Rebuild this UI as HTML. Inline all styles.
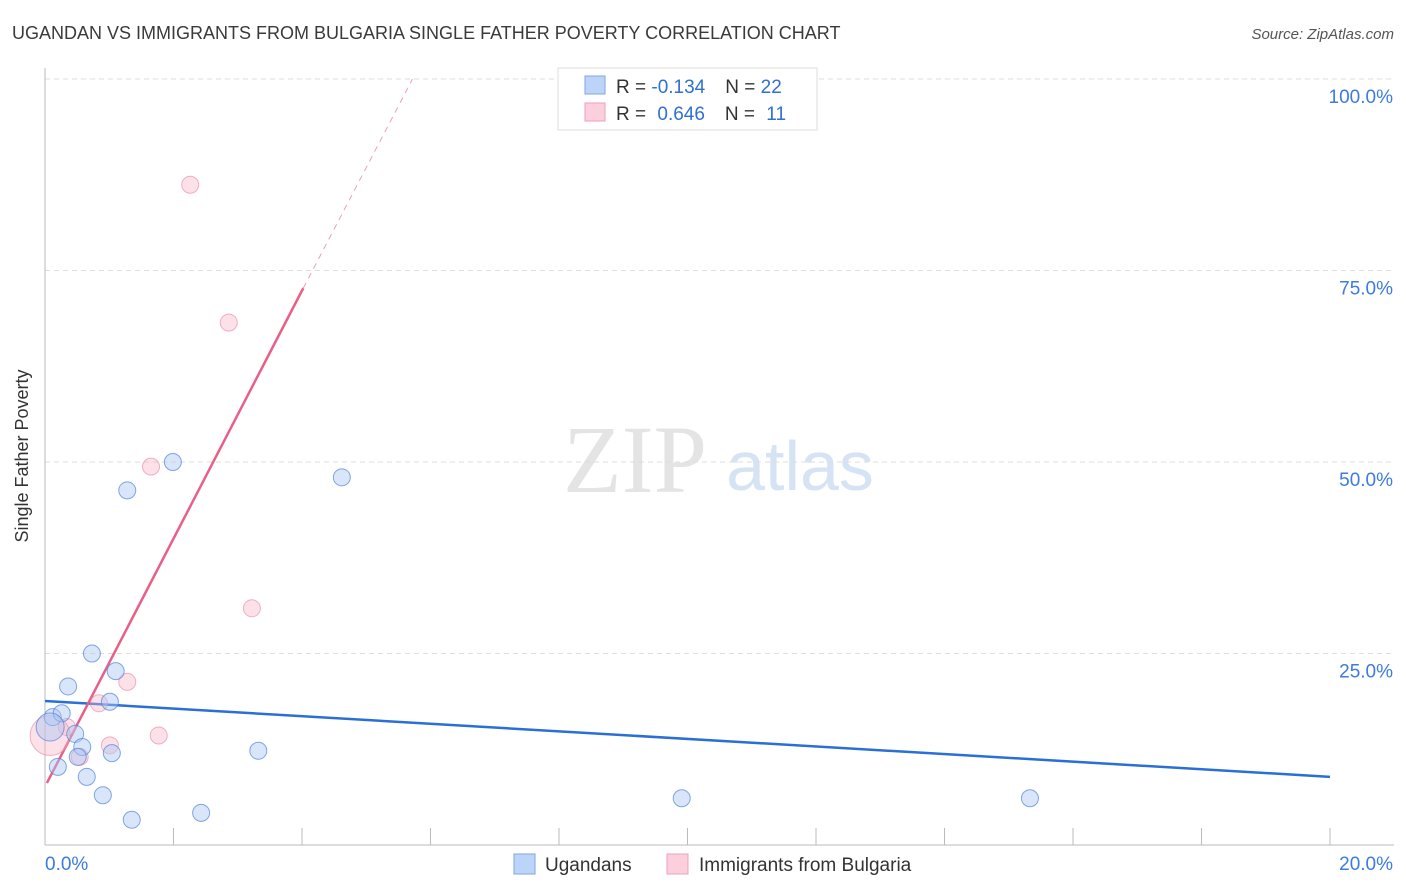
<!DOCTYPE html>
<html><head><meta charset="utf-8"><style>
body{margin:0;background:#fff;font-family:"Liberation Sans",sans-serif}
svg{display:block}
</style></head><body>
<svg id="c" width="1406" height="892">
<text x="12" y="39" font-size="18" fill="#3a3a3a">UGANDAN VS IMMIGRANTS FROM BULGARIA SINGLE FATHER POVERTY CORRELATION CHART</text>
<text x="1394" y="39" font-size="15" fill="#555" font-style="italic" text-anchor="end">Source: ZipAtlas.com</text>
<text x="28" y="456" font-size="18" fill="#333" text-anchor="middle" transform="rotate(-90 28 456)">Single Father Poverty</text>
<text x="635" y="492" font-size="96" fill="#e4e4e4" font-family="Liberation Serif,serif" text-anchor="middle">ZIP</text>
<text x="800" y="490" font-size="70" fill="#d6e3f5" text-anchor="middle">atlas</text>
<g id="grid"></g><g id="axes"></g><g id="lines"></g><g id="pts"></g>
<g>
<rect x="558" y="68" width="259" height="62" fill="#fff" stroke="#ddd"/>
<rect x="585" y="76" width="20" height="18" fill="#bcd4f7" stroke="#7fa6e0"/>
<rect x="585" y="103" width="20" height="18" fill="#fbd0dc" stroke="#eba2b8"/>
<text x="616" y="93" font-size="19" fill="#333">R = <tspan fill="#2f6fd6">-0.134</tspan><tspan dx="20">N = </tspan><tspan fill="#2f6fd6">22</tspan></text>
<text x="616" y="120" font-size="19" fill="#333">R = <tspan fill="#2f6fd6" dx="6">0.646</tspan><tspan dx="20">N = </tspan><tspan fill="#2f6fd6" dx="6">11</tspan></text>
</g>
<g>
<rect x="514" y="854" width="21" height="20" fill="#bcd4f7" stroke="#7fa6e0"/>
<text x="545" y="871" font-size="19" fill="#333">Ugandans</text>
<rect x="667" y="854" width="21" height="20" fill="#fbd0dc" stroke="#eba2b8"/>
<text x="699" y="871" font-size="19" fill="#333">Immigrants from Bulgaria</text>
</g>
</svg>
<script>
const yTicks=[25,50,75,100];
const yTickLabels=["25.0%","50.0%","75.0%","100.0%"];
const xTicks=[0,2,4,6,8,10,12,14,16,18,20];
const ugX=[0.12,0.26,0.36,0.73,1.10,1.01,0.47,0.58,0.51,1.04,0.20,0.65,0.90,1.35,2.43,3.32,1.28,1.99,4.62,9.91,15.33,0.08];
const ugY=[16.7,17.2,20.7,25.0,22.7,18.7,14.5,12.8,11.5,12.0,10.2,8.9,6.5,3.3,4.2,12.3,46.3,50.0,48.0,6.1,6.1,15.4];
const bgX=[2.26,2.86,1.65,3.22,1.28,0.84,1.77,1.01,0.54,0.34,0.08];
const bgY=[86.2,68.2,49.4,30.9,21.3,18.5,14.3,13.0,11.5,15.4,14.3];
const ugLine=[[0,18.8],[20,8.9]];
const bgLine=[[0.03,8.1],[4.02,72.7]];
const bgDash=[[4.02,72.7],[5.72,100]];
const NS="http://www.w3.org/2000/svg";
const X=v=>45+v/20*1285, Y=v=>845-v/100*766;
function mk(t,a,p){const e=document.createElementNS(NS,t);for(const k in a)e.setAttribute(k,a[k]);document.getElementById(p).appendChild(e);return e;}
yTicks.forEach((t,i)=>{
 const l=mk('line',{x1:45,x2:1394,y1:Y(t),y2:Y(t),stroke:'#ddd','stroke-dasharray':'5,4'},'grid');
 
 
 const tx=mk('text',{x:1393,y:Y(t)+24,'font-size':19,fill:'#3d7be0','text-anchor':'end'},'grid');tx.textContent=yTickLabels[i];
 
 
});
const ax=mk('line',{x1:45,x2:45,y1:68,y2:845,stroke:'#bbb'},'axes');


const bx=mk('line',{x1:45,x2:1394,y1:845,y2:845,stroke:'#bbb'},'axes');


xTicks.forEach(t=>{const l=mk('line',{x1:X(t),x2:X(t),y1:828,y2:845,stroke:'#bbb'},'axes');
 
 });
const x0=mk('text',{x:45,y:870,'font-size':19,fill:'#3d7be0'},'axes');x0.textContent='0.0%';


const x1=mk('text',{x:1393,y:870,'font-size':19,fill:'#3d7be0','text-anchor':'end'},'axes');x1.textContent='20.0%';


function ln(p,st,dash,name){const l=mk('line',{x1:X(p[0][0]),y1:Y(p[0][1]),x2:X(p[1][0]),y2:Y(p[1][1]),stroke:st,'stroke-width':dash?1:2.5,'stroke-dasharray':dash?'6,5':'none'},'lines');
 
 }
ln(ugLine,'#2a6fd6',0,'ugandans-trend-line');
ln(bgLine,'#e8608a',0,'bulgaria-trend-line');
ln(bgDash,'#e8a0b8',1,'bulgaria-trend-extension');
bgX.forEach((v,i)=>{const r=i==10?20:8.5;const c=mk('circle',{cx:X(v),cy:Y(bgY[i]),r:r,fill:'rgba(248,180,200,0.4)',stroke:'rgba(230,130,160,0.6)'},'pts');
 
 });
ugX.forEach((v,i)=>{const r=i==21?14:8.5;const c=mk('circle',{cx:X(v),cy:Y(ugY[i]),r:r,fill:'rgba(170,200,245,0.45)',stroke:'rgba(80,130,220,0.7)'},'pts');
 
 });
</script>
</body></html>
